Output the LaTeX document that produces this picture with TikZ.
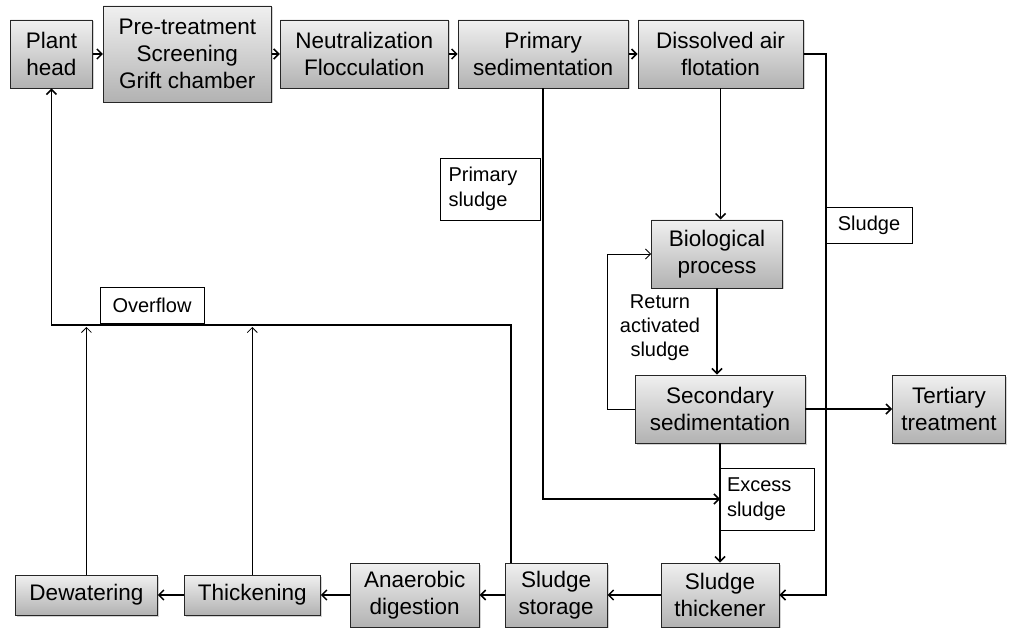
\documentclass[tikz,border=0pt]{standalone}
\usepackage{fontspec}
\setmainfont{Liberation Sans}
\usepackage{xcolor}
\usetikzlibrary{arrows.meta, positioning, calc, shadows}
\definecolor{boxTop}{RGB}{240, 240, 240}
\definecolor{boxBottom}{RGB}{178, 178, 178}

\begin{document}
\begin{tikzpicture}[
        x=1pt, y=-1pt,
        node distance=9pt,
        stage/.style={rectangle, draw=black!85, line width=0.9pt, top color=boxTop, bottom color=boxBottom, minimum height=68pt, align=center, inner sep=1pt, font=\fontsize{22.5}{27}\selectfont, drop shadow={opacity=0.35, shadow xshift=1.5pt, shadow yshift=-1.5pt}},
        tag/.style={rectangle, draw=black, line width=0.8pt, fill=white, font=\fontsize{20}{25}\selectfont, inner sep=0pt},
        flow/.style={-{Straight Barb[length=5pt, width=10pt]}, line width=1.5pt, black},
        thin flow/.style={-{Straight Barb[length=5pt, width=10pt]}, line width=0.8pt, black}
    ]
        \useasboundingbox (0,0) rectangle (1012,628);

        % Main line
        \node[stage, minimum width=82pt, anchor=west] (plant) at (10,54) {Plant\\head};
        \node[stage, minimum width=168pt, minimum height=96pt, right=10pt of plant] (pretreat) {Pre-treatment\\Screening\\Grift chamber};
        \node[stage, minimum width=168pt, right=8pt of pretreat] (neutral) {Neutralization\\Flocculation};
        \node[stage, minimum width=170pt, right=9pt of neutral] (primary) {Primary\\sedimentation};
        \node[stage, minimum width=165pt, right=9pt of primary] (flotation) {Dissolved air\\flotation};

        % Biological treatment
        \node[stage, minimum width=131pt] (bio) at (717,254) {Biological\\process};
        \node[stage, minimum width=170pt] (secondary) at (720,409) {Secondary\\sedimentation};
        \node[stage, minimum width=113pt] (tertiary) at (949,409) {Tertiary\\treatment};

        % Sludge line
        \node[stage, minimum width=118pt, minimum height=64pt] (thickener) at (720,595) {Sludge\\thickener};
        \node[stage, minimum width=102pt, minimum height=64pt, left=53pt of thickener] (storage) {Sludge\\storage};
        \node[stage, minimum width=129pt, minimum height=64pt, left=25pt of storage] (digestion) {Anaerobic\\digestion};
        \node[stage, minimum width=136pt, minimum height=40pt, left=29pt of digestion] (thickening) {Thickening};
        \node[stage, minimum width=142pt, minimum height=40pt, left=26pt of thickening] (dewatering) {Dewatering};

        % Labels
        \node[tag, minimum width=100pt, minimum height=62pt, align=left, text width=84pt] (lprimary) at (490.5,189) {Primary\\sludge};
        \node[tag, minimum width=86pt, minimum height=36pt] (lsludge) at (869,225) {Sludge};
        \node[tag, minimum width=104pt, minimum height=36pt] (loverflow) at (152,305) {Overflow};
        \node[tag, minimum width=94pt, minimum height=62pt, align=left, text width=80pt] (lexcess) at (767,499) {Excess\\sludge};
        \node[font=\fontsize{20}{24}\selectfont, align=center] (lreturn) at (660,328) {Return\\activated\\sludge};

        % Turning points
        \coordinate (sright) at (826,54);
        \coordinate (pjoin) at (720,499);
        \coordinate (rleft) at (607,409);
        \coordinate (oline) at (511,325);

        \draw[flow] (plant) -- (pretreat);
        \draw[flow] (pretreat) -- (neutral);
        \draw[flow] (neutral) -- (primary);
        \draw[flow] (primary) -- (flotation);
        \draw[flow] (flotation.south) -- (flotation.south |- bio.north);
        \draw[flow] (bio.south) -- (bio.south |- secondary.north);
        \draw[flow] (secondary) -- (tertiary);
        \draw[thin flow] (secondary.west) -- (rleft) |- (bio.west);
        \draw[flow] (secondary.south) -- (thickener.north);
        \draw[flow] (primary.south) |- (pjoin);
        \draw[flow] (flotation.east) -- (sright) |- (thickener.east);
        \draw[flow] (thickener) -- (storage);
        \draw[flow] (storage) -- (digestion);
        \draw[flow] (digestion) -- (thickening);
        \draw[flow] (thickening) -- (dewatering);
        \draw[flow] (oline |- storage.north) -- (oline) -| (plant.south);
        \draw[thin flow] (dewatering.north) -- ($(dewatering.north |- oline)+(0,2)$);
        \draw[thin flow] (thickening.north) -- ($(thickening.north |- oline)+(0,2)$);
    \end{tikzpicture}
\end{document}
